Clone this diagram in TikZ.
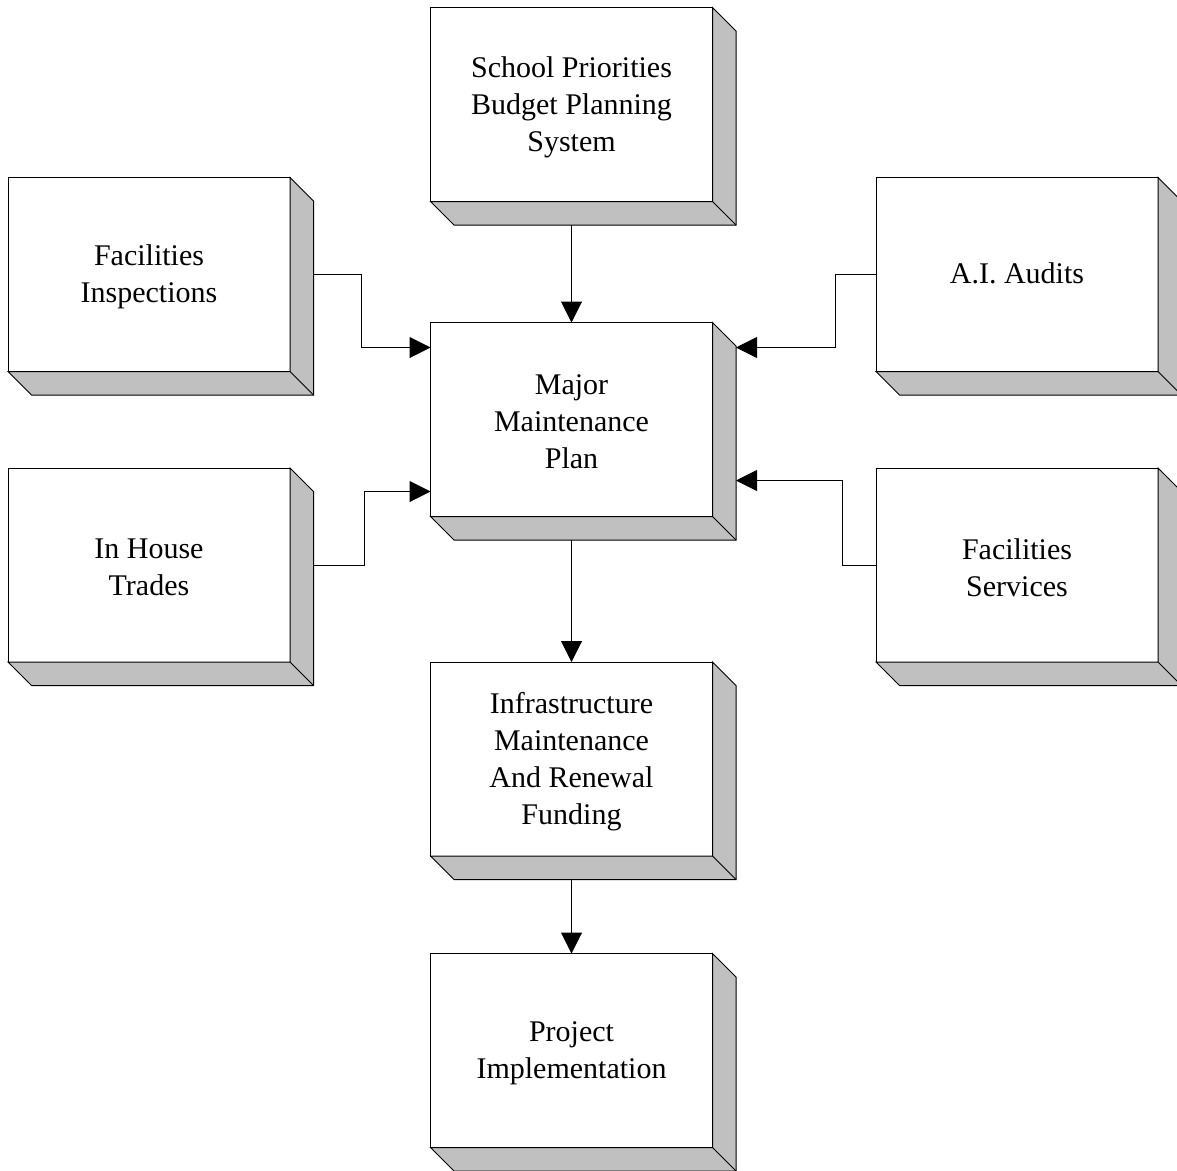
\documentclass[tikz,border=0pt]{standalone}
\usepackage{fontspec}
\setmainfont{Liberation Serif}
\usetikzlibrary{arrows.meta,calc}
\definecolor{shadegray}{HTML}{C0C0C0}
\newcommand\boxsides[1]{%
  \draw[line width=1pt, fill=shadegray, line join=miter]
    (#1.north east) -- ++(23.5,-23.5) -- ($(#1.south east)+(23.5,-23.5)$)
    -- ($(#1.south west)+(23.5,-23.5)$) -- (#1.south west) -- (#1.south east) -- cycle;
  \draw[line width=1pt] (#1.south east) -- ++(23.5,-23.5);}
\newcommand\boxtext[3][-2.5pt]{\node[btext] (#2-t) at ([yshift=#1]#2.center) {#3};}
\begin{document}
\begin{tikzpicture}[x=1pt,y=1pt,
  mbox/.style={draw, fill=white, line width=1pt, minimum width=282pt, minimum height=194pt,
    inner sep=0pt, outer sep=0pt},
  btext/.style={inner sep=0pt, align=center, font=\fontsize{30}{37}\selectfont},
  conn/.style={line width=1pt, -{Triangle[length=21pt,width=21pt]}}]
\useasboundingbox (0,0) rectangle (1177,-1170);
\node[mbox] (sps) at (571.5,-104.5) {};
\node[mbox] (fi)  at (149,-274.5) {};
\node[mbox] (aia) at (1017,-274.5) {};
\node[mbox] (mmp) at (571.5,-419.5) {};
\node[mbox] (iht) at (149,-565) {};
\node[mbox] (fs)  at (1017,-565) {};
\node[mbox] (imr) at (571.5,-759) {};
\node[mbox] (pi)  at (571.5,-1050.5) {};
\foreach \n in {sps,fi,aia,mmp,iht,fs,imr,pi}{\boxsides{\n}}
\boxtext{sps}{School Priorities\\Budget Planning\\System}
\boxtext{fi}{Facilities\\Inspections}
\boxtext[1pt]{aia}{A.I. Audits}
\boxtext{mmp}{Major\\Maintenance\\Plan}
\boxtext{iht}{In House\\Trades}
\boxtext{fs}{Facilities\\Services}
\boxtext{imr}{Infrastructure\\Maintenance\\And Renewal\\Funding}
\boxtext{pi}{Project\\Implementation}
% connectors
\draw[conn] ([yshift=-23.5pt]sps.south) -- (mmp.north);
\draw[conn] ([xshift=23.5pt]fi.east) -- ++(48,0) |- ([yshift=-25pt]mmp.north west);
\draw[conn] (aia.west) -- ++(-41,0) |- ([shift={(23.5pt,-25pt)}]mmp.north east);
\draw[conn] ([xshift=23.5pt]iht.east) -- ++(51,0) |- ([yshift=25pt]mmp.south west);
\draw[conn] (fs.west) -- ++(-34,0) |- ([shift={(23.5pt,36pt)}]mmp.south east);
\draw[conn] ([yshift=-23.5pt]mmp.south) -- (imr.north);
\draw[conn] ([yshift=-23.5pt]imr.south) -- (pi.north);
\end{tikzpicture}
\end{document}
